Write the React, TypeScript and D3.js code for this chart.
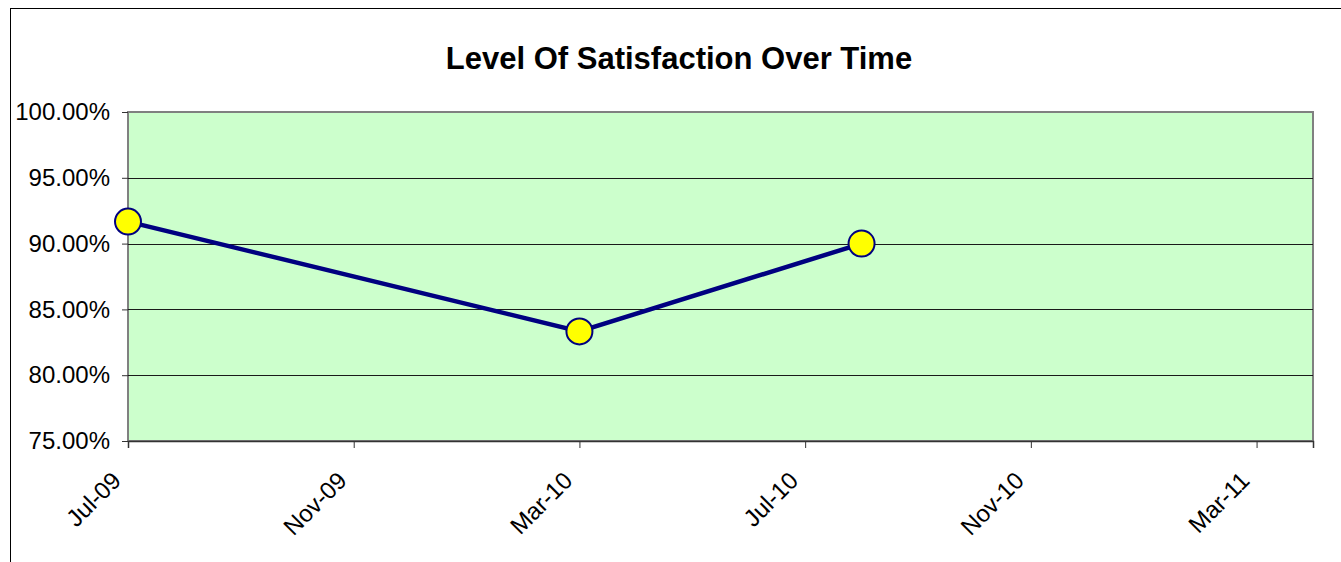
import React, { useEffect, useRef } from 'react';
import * as d3 from 'd3';

const title = 'Level Of Satisfaction Over Time';
const surveyDates = ['2009-07-01', '2010-03-01', '2010-08-01'];
const satisfaction = [0.9167, 0.8333, 0.9];
const yTicks = [0.75, 0.8, 0.85, 0.9, 0.95, 1.0];
const axisStart = '2009-07-01';
const axisEnd = '2011-04-01';
const monthStep = 4;

const App = () => {
    const svgRef = useRef(null);

    useEffect(() => {
        const svg = d3.select(svgRef.current);
        const width = 1341;
        const height = 562;
        const plotLeft = 128;
        const plotRight = 1313;
        const plotTop = 112;
        const plotBottom = 441;
        const font = 'Liberation Sans, Arial, sans-serif';

        svg.attr('width', width).attr('height', height).selectAll('*').remove();

        const parse = d3.timeParse('%Y-%m-%d');
        const start = parse(axisStart);
        const end = parse(axisEnd);
        const monthIndex = d => d3.timeMonth.count(start, d);
        const totalMonths = monthIndex(end);

        const x = d3.scaleLinear()
            .domain([0, totalMonths])
            .range([plotLeft, plotRight]);

        const y = d3.scaleLinear()
            .domain([0.75, 1])
            .range([plotBottom, plotTop]);

        const data = surveyDates.map((d, i) => ({ m: monthIndex(parse(d)), v: satisfaction[i] }));
        const tickMonths = d3.range(0, totalMonths, monthStep);
        const fmt = d3.timeFormat('%b-%y');

        // chart area
        svg.append('rect')
            .attr('x', 10.5).attr('y', 8.5)
            .attr('width', 1400).attr('height', 700)
            .attr('fill', '#fff').attr('stroke', '#000');

        svg.append('text')
            .attr('x', 679).attr('y', 69)
            .attr('text-anchor', 'middle')
            .attr('font-family', font)
            .attr('font-weight', 'bold')
            .attr('font-size', 31)
            .text(title);

        // plot area
        svg.append('rect')
            .attr('x', plotLeft).attr('y', plotTop)
            .attr('width', plotRight - plotLeft).attr('height', plotBottom - plotTop)
            .attr('fill', '#CCFFCC')
            .attr('stroke', '#808080').attr('stroke-width', 2);

        svg.append('g')
            .selectAll('line')
            .data(yTicks.slice(1, -1))
            .enter()
            .append('line')
            .attr('x1', plotLeft).attr('x2', plotRight)
            .attr('y1', d => Math.round(y(d)) + 0.5).attr('y2', d => Math.round(y(d)) + 0.5)
            .attr('stroke', '#1a1a1a');

        const yAxis = svg.append('g')
            .attr('transform', `translate(${plotLeft}, 0)`)
            .call(d3.axisLeft(y).tickValues(yTicks).tickSize(6).tickPadding(12).tickFormat(d3.format('.2%')));
        yAxis.select('.domain').remove();
        yAxis.selectAll('line').attr('stroke', '#333');
        yAxis.selectAll('text').attr('font-family', font).attr('font-size', 24).attr('fill', '#000');

        const xAxis = svg.append('g')
            .attr('transform', `translate(0, ${plotBottom})`)
            .call(d3.axisBottom(x).tickValues(tickMonths).tickSize(7).tickFormat(d => fmt(d3.timeMonth.offset(start, d))));
        xAxis.select('.domain').attr('stroke', '#333').attr('stroke-width', 1.5);
        xAxis.selectAll('line').attr('stroke', '#333');
        xAxis.selectAll('text')
            .attr('font-family', font).attr('font-size', 24).attr('fill', '#000')
            .attr('text-anchor', 'end')
            .attr('dy', null)
            .attr('y', 0)
            .attr('transform', 'translate(-6, 41) rotate(-45)');

        const line = d3.line()
            .x(d => x(d.m))
            .y(d => y(d.v));

        svg.append('path')
            .datum(data)
            .attr('d', line)
            .attr('fill', 'none')
            .attr('stroke', '#000080')
            .attr('stroke-width', 4.5);

        svg.selectAll('.dot')
            .data(data)
            .enter()
            .append('circle')
            .attr('class', 'dot')
            .attr('cx', d => x(d.m))
            .attr('cy', d => y(d.v))
            .attr('r', 13)
            .attr('fill', '#FFFF00')
            .attr('stroke', '#000080')
            .attr('stroke-width', 2);
    }, []);

    return <svg ref={svgRef} style={{ position: 'absolute', left: 0, top: 0 }}></svg>;
};

export default App;
